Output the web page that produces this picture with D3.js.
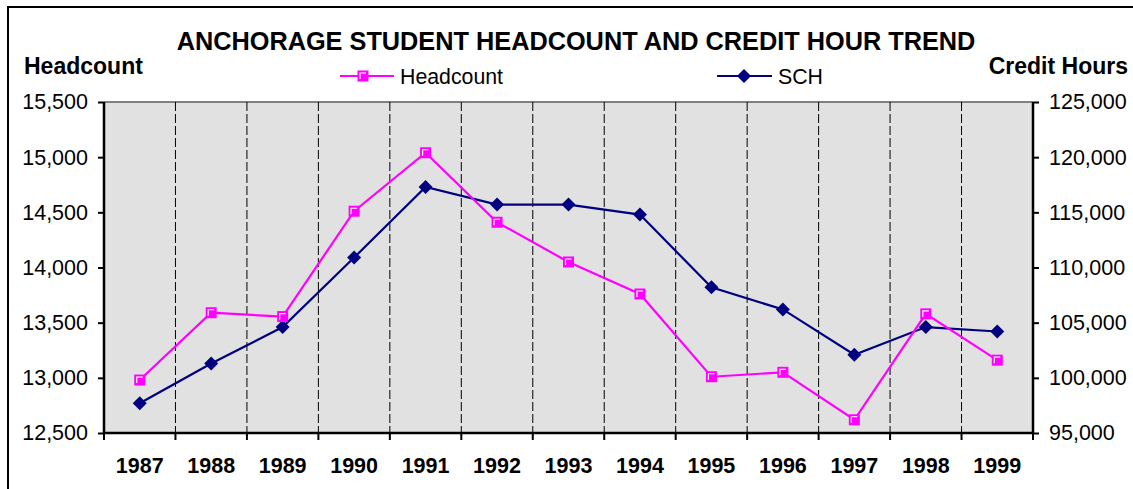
<!DOCTYPE html>
<html><head><meta charset="utf-8">
<script src="https://cdn.jsdelivr.net/npm/d3@7"></script>
<style>body{margin:0;background:#fff}svg{display:block;font-family:"Liberation Sans",Arial,sans-serif}</style>
</head><body><svg id="c" width="1133" height="489"></svg>
<script>
const years = ["1987","1988","1989","1990","1991","1992","1993","1994","1995","1996","1997","1998","1999"];
const headcount = [12980,13590,13555,14510,15040,14410,14050,13760,13010,13050,12620,13580,13160];
const sch = [97700,101300,104600,110900,117300,115700,115700,114800,108200,106200,102100,104600,104200];
const leftTicks = [12500,13000,13500,14000,14500,15000,15500];
const rightTicks = [95000,100000,105000,110000,115000,120000,125000];
const title = "ANCHORAGE STUDENT HEADCOUNT AND CREDIT HOUR TREND";

const svg = d3.select("#c");
const L=104, R=1033, T=102, B=433;
const x = d3.scaleBand().domain(years).range([L,R]);
const yL = d3.scaleLinear().domain([12500,15500]).range([B,T]);
const yR = d3.scaleLinear().domain([95000,125000]).range([B,T]);
const fmt = d3.format(",");
const tickFont = 21.5;

// outer frame
svg.append("rect").attr("x",8).attr("y",7).attr("width",1200).attr("height",600)
  .attr("fill","none").attr("stroke","#000").attr("stroke-width",2);

// plot bg
svg.append("rect").attr("x",L).attr("y",T).attr("width",R-L).attr("height",B-T).attr("fill","#e1e1e1");
// top border grey
svg.append("line").attr("x1",L).attr("x2",R).attr("y1",T).attr("y2",T).attr("stroke","#808080").attr("stroke-width",2);

// dashed vertical gridlines at category boundaries
const bounds = years.slice(1).map(y=>x(y));
svg.append("g").selectAll("line").data(bounds).join("line")
  .attr("x1",d=>d).attr("x2",d=>d).attr("y1",T).attr("y2",B)
  .attr("stroke","#000").attr("stroke-width",1).attr("stroke-dasharray","9,3");

// left axis
const gl = svg.append("g").attr("transform",`translate(${L},0)`)
  .call(d3.axisLeft(yL).tickValues(leftTicks).tickFormat(fmt).tickSize(6).tickPadding(10));
// right axis
const gr = svg.append("g").attr("transform",`translate(${R},0)`)
  .call(d3.axisRight(yR).tickValues(rightTicks).tickFormat(fmt).tickSize(6).tickPadding(10));
// bottom axis with ticks at boundaries
const gb = svg.append("g").attr("transform",`translate(0,${B})`)
  .call(d3.axisBottom(x).tickSize(0).tickPadding(25));
[gl,gr,gb].forEach(g=>{
  g.selectAll(".domain").attr("stroke","#000").attr("stroke-width",2.5);
  g.selectAll(".tick line").attr("stroke","#000").attr("stroke-width",2);
  g.selectAll("text").attr("fill","#000").attr("font-size",tickFont).attr("font-family","Liberation Sans, Arial, sans-serif");
});
gl.select(".domain").attr("d",`M0,${T}V${B}`);
gr.select(".domain").attr("d",`M0,${T}V${B}`);
gb.select(".domain").attr("d",`M${L},0H${R}`);
gb.selectAll("text").attr("font-weight","bold");
svg.append("g").selectAll("line").data([L,...bounds,R]).join("line")
  .attr("x1",d=>d).attr("x2",d=>d).attr("y1",B).attr("y2",B+7).attr("stroke","#000").attr("stroke-width",2);

const cx = d=>x(d)+x.bandwidth()/2;
// lines
svg.append("path").datum(years.map((y,i)=>[cx(y),yR(sch[i])]))
  .attr("d",d3.line()).attr("fill","none").attr("stroke","#000080").attr("stroke-width",2.2);
svg.append("path").datum(years.map((y,i)=>[cx(y),yL(headcount[i])]))
  .attr("d",d3.line()).attr("fill","none").attr("stroke","#ff00ff").attr("stroke-width",2.2);

function square(g,px,py){
  g.append("rect").attr("x",px-5.5).attr("y",py-5.5).attr("width",11).attr("height",11).attr("fill","#ff00ff");
  g.append("path").attr("d",`M${px-3},${py+3}V${py-3}H${px+3}`).attr("fill","none").attr("stroke","#fff").attr("stroke-width",1.2);
}
function diamond(g,px,py){
  g.append("path").attr("d",`M${px},${py-7}L${px+7},${py}L${px},${py+7}L${px-7},${py}Z`).attr("fill","#000080");
}
const gm = svg.append("g");
years.forEach((y,i)=>diamond(gm,cx(y),yR(sch[i])));
years.forEach((y,i)=>square(gm,cx(y),yL(headcount[i])));

// title & axis titles
svg.append("text").attr("x",576).attr("y",50).attr("text-anchor","middle")
  .attr("font-size",25.3).attr("font-weight","bold").text(title);
svg.append("text").attr("x",24).attr("y",74).attr("font-size",23).attr("font-weight","bold").text("Headcount");
svg.append("text").attr("x",1128).attr("y",74).attr("text-anchor","end").attr("font-size",23).attr("font-weight","bold").text("Credit Hours");

// legend
const lg = svg.append("g");
lg.append("line").attr("x1",340).attr("x2",394).attr("y1",76).attr("y2",76).attr("stroke","#ff00ff").attr("stroke-width",2.2);
square(lg,363,76);
lg.append("text").attr("x",400).attr("y",84).attr("font-size",21.3).text("Headcount");
lg.append("line").attr("x1",717).attr("x2",772).attr("y1",76).attr("y2",76).attr("stroke","#000080").attr("stroke-width",2.2);
diamond(lg,744,76);
lg.append("text").attr("x",778).attr("y",84).attr("font-size",21.3).text("SCH");
</script></body></html>
